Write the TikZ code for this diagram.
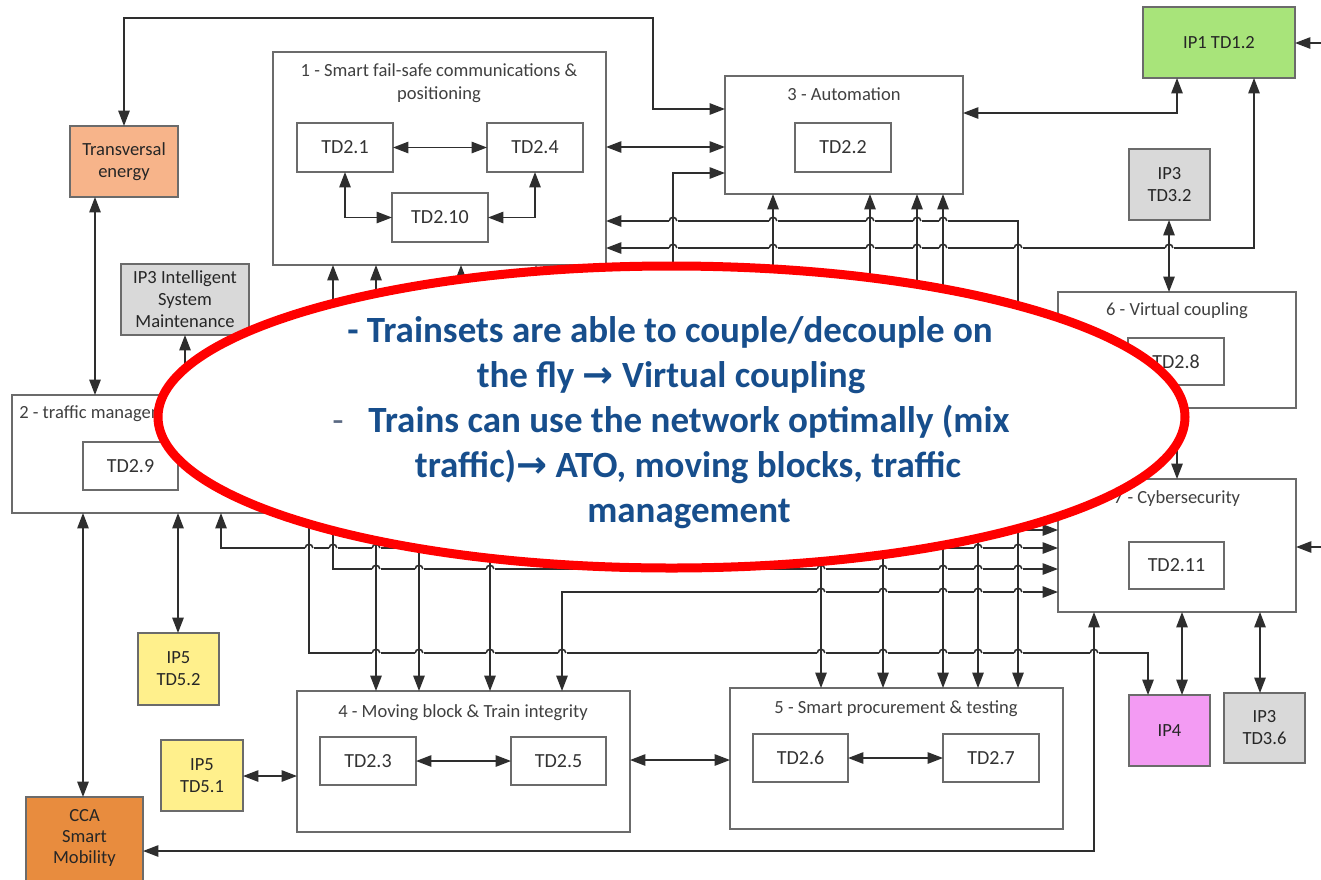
\documentclass[tikz,border=0pt]{standalone}
\usepackage{fontspec}
\setmainfont{Carlito}
\newfontfamily\arwfont{DejaVu Sans}
\usetikzlibrary{arrows.meta}
\definecolor{teC}{RGB}{247,180,138}
\definecolor{ipOne}{RGB}{168,228,122}
\definecolor{ipThree}{RGB}{217,217,217}
\definecolor{ipFive}{RGB}{255,240,140}
\definecolor{ipFour}{RGB}{243,155,243}
\definecolor{ccaC}{RGB}{232,140,62}
\definecolor{blueT}{RGB}{23,78,140}
\definecolor{dashC}{RGB}{90,105,130}
\tikzset{
 c/.style={line width=1.15pt, draw=black!82},
 bx/.style={draw=black!58, line width=1.1pt, fill=white, inner sep=0pt, outer sep=0pt, text=black!80, font=\fontsize{15pt}{18pt}\selectfont},
 cbx/.style={draw=black!58, line width=1.1pt, inner sep=0pt, outer sep=0pt, align=center, text=black!85, font=\fontsize{13.9pt}{16.5pt}\selectfont},
 ttl/.style={anchor=base, inner sep=0pt, text=black!75, font=\fontsize{13.9pt}{17pt}\selectfont},
 et/.style={anchor=base, inner sep=0pt, text=blueT, font=\fontsize{27.75pt}{33.75pt}\selectfont\bfseries},
 >={Triangle[length=11.5pt,width=8.5pt]},
}
% box from (x1,y1) to (x2,y2) in pixel coordinates
\newcommand\rect[6]{\node[#1, minimum width={(#4-#2)*0.75pt}, minimum height={(#5-#3)*0.75pt}] (#6) at ({(#2+#4)/2},{(#3+#5)/2})}
\newcommand\hop[2]{%
 \fill[white] ({#1-4.5},{#2-1.7}) rectangle ({#1+4.5},{#2+1.7});
 \draw[c] (#1,{#2-5}) -- (#1,{#2+5});
 \draw[c] ({#1-3.8},#2) arc[start angle=180,end angle=360,radius=3.8];}
\newcommand\arw{{\arwfont\bfseries →}}
\begin{document}
\begin{tikzpicture}[x=0.75pt,y=-0.75pt]
\useasboundingbox (0,0) rectangle (1321,879);
\clip (0,0) rectangle (1321,879);
\fill[white] (0,0) rectangle (1321,879);

% ---------- containers ----------
\rect{bx}{273}{52}{606}{265}{box1} {};
\node[ttl] (t1a) at (439,76) {1 - Smart fail-safe communications \&};
\node[ttl] (t1b) at (439,99) {positioning};
\rect{bx}{725}{76}{963}{194}{auto} {};
\node[ttl] (t3) at (844,100) {3 - Automation};
\rect{bx}{12}{395}{290}{513}{box2} {};
\node[ttl, anchor=base west] (t2) at (19,418) {2 - traffic management};
\rect{bx}{1058}{292}{1296}{408}{vc} {};
\node[ttl] (t6) at (1177,315) {6 - Virtual coupling};
\rect{bx}{1058}{479}{1296}{612}{cyber} {};
\node[ttl] (t7) at (1177,503) {7 - Cybersecurity};
\rect{bx}{297}{691}{630}{832}{box4} {};
\node[ttl] (t4) at (463,717) {4 - Moving block \& Train integrity};
\rect{bx}{730}{688}{1063}{829}{box5} {};
\node[ttl] (t5) at (896,713) {5 - Smart procurement \& testing};

% ---------- TD boxes ----------
\rect{bx}{297}{123}{393}{172}{td21} {TD2.1};
\rect{bx}{487}{123}{583}{172}{td24} {TD2.4};
\rect{bx}{392}{193}{488}{242}{td210} {TD2.10};
\rect{bx}{795}{123}{891}{172}{td22} {TD2.2};
\rect{bx}{83}{442}{178}{490}{td29} {TD2.9};
\rect{bx}{1128}{338}{1224}{385}{td28} {TD2.8};
\rect{bx}{1129}{542}{1224}{589}{td211} {TD2.11};
\rect{bx}{320}{737}{416}{785}{td23} {TD2.3};
\rect{bx}{511}{737}{606}{785}{td25} {TD2.5};
\rect{bx}{753}{734}{848}{782}{td26} {TD2.6};
\rect{bx}{943}{734}{1039}{782}{td27} {TD2.7};

% ---------- coloured boxes ----------
\rect{cbx, fill=teC}{70}{126}{178}{197}{te} {Transversal\\energy};
\rect{cbx, fill=ipOne}{1143}{7}{1295}{78}{ip1} {IP1 TD1.2};
\rect{cbx, fill=ipThree}{1129}{149}{1210}{220}{ip3a} {IP3\\TD3.2};
\rect{cbx, fill=ipThree}{121}{264}{249}{335}{ip3ism} {IP3 Intelligent\\System\\Maintenance};
\rect{cbx, fill=ipFive}{138}{633}{219}{705}{ip5b} {IP5\\TD5.2};
\rect{cbx, fill=ipFive}{161}{740}{243}{811}{ip5a} {IP5\\TD5.1};
\rect{cbx, fill=ccaC}{26}{797}{143}{886}{cca} {};
\node[align=center, inner sep=0pt, text=black!85, font=\fontsize{13.9pt}{16pt}\selectfont] (ccal) at (84.5,838) {CCA\\Smart\\Mobility};
\rect{cbx, fill=ipFour}{1129}{695}{1210}{766}{ip4} {IP4};
\rect{cbx, fill=ipThree}{1224}{693}{1305}{763}{ip3b} {IP3\\TD3.6};

\coordinate (e1) at (1321,43);
\coordinate (e2) at (1321,547);

% ---------- connectors ----------
\draw[c,<->] (td21.east) -- (td24.west);
\draw[c,<->] (td21.south) |- (td210.west);
\draw[c,<->] (td24.south) |- (td210.east);
\draw[c,<->] (box1.east |- 0,147) -- (auto.west |- 0,147);
\draw[c,<->] (te.north) -- (124,18) -- (653,18) -- (653,109) -- (auto.west |- 0,109);
\draw[c,<->] (te.south -| 95,0) -- (box2.north -| 95,0);
\draw[c,<->] (ip3ism.south -| 185,0) -- (box2.north -| 185,0);
\draw[c,<->] (box2.south -| 83,0) -- (cca.north -| 83,0);
\draw[c,<->] (box2.south -| 178,0) -- (ip5b.north -| 178,0);
\draw[c,<->] (box2.south -| 221,0) -- (221,548) -- (cyber.west |- 0,548);
\draw[c,<->] (ip5a.east |- 0,776) -- (box4.west |- 0,776);
\draw[c,<->] (td23.east) -- (td25.west);
\draw[c,<->] (box4.east |- 0,760) -- (box5.west |- 0,760);
\draw[c,<->] (td26.east) -- (td27.west);
\draw[c,<->] (cyber.south -| 1094,0) -- (1094,851) -- (cca.east |- 0,851);
\draw[c,<->] (cyber.south -| 1182,0) -- (ip4.north -| 1182,0);
\draw[c,<->] (cyber.south -| 1260,0) -- (ip3b.north -| 1260,0);
\draw[c,<->] (vc.south -| 1177,0) -- (cyber.north -| 1177,0);
\draw[c,<->] (ip3a.south -| 1169,0) -- (vc.north -| 1169,0);
\draw[c,<->] (auto.east |- 0,113) -- (1177,113) -- (ip1.south -| 1177,0);
\draw[c,->] (e1) -- (ip1.east |- e1);
\draw[c,->] (e2) -- (cyber.east |- e2);
\draw[c,<->] (box1.east |- 0,248) -- (1254,248) -- (ip1.south -| 1254,0);
\draw[c,<->] (box1.east |- 0,221) -- (1018,221) -- (box5.north -| 1018,0);
\draw[c,<->] (auto.west |- 0,173) -- (673,173) -- (673,420) -- (490,420) -- (box4.north -| 490,0);
\draw[c,<->] (auto.south -| 773,0) -- (773,400) -- (821,400) -- (box5.north -| 821,0);
\draw[c,<->] (auto.south -| 870,0) -- (870,410) -- (883,410) -- (box5.north -| 883,0);
\draw[c,<->] (auto.south -| 943,0) -- (box5.north -| 943,0);
\draw[c,<->] (auto.south -| 917,0) -- (917,350) -- (978,350) -- (box5.north -| 978,0);
\draw[c,<->] (box1.south -| 333,0) -- (333,569) -- (cyber.west |- 0,569);
\draw[c,<->] (box1.south -| 376,0) -- (box4.north -| 376,0);
\draw[c,<->] (box1.south -| 461,0) -- (461,530) -- (cyber.west |- 0,530);
\draw[c,<->] (box1.south -| 536,0) -- (536,500) -- (419,500) -- (box4.north -| 419,0);
\draw[c,<->] (box4.north -| 562,0) -- (562,592) -- (cyber.west |- 0,592);
\draw[c,->] (box2.east |- 0,480) -- (309,480) -- (309,653) -- (1148,653) -- (ip4.north -| 1148,0);

% ---------- line hops ----------
\foreach \x in {673,773,870,917,943} {\hop{\x}{221}}
\foreach \x in {673,773,870,917,943,1018,1169} {\hop{\x}{248}}
\foreach \x in {490,821,883,943,978,1018} {\hop{\x}{530}}
\foreach \x in {309,333,376,419,490,821,883,943,978,1018} {\hop{\x}{548}}
\foreach \x in {376,419,490,821,883,943,978,1018} {\hop{\x}{569}}
\foreach \x in {821,883,943,978,1018} {\hop{\x}{592}}
\foreach \x in {376,419,490,562,821,883,943,978,1018,1094} {\hop{\x}{653}}

% ---------- highlight ellipse ----------
\draw[red, line width=6.75pt, fill=white] (671.5,417) ellipse [x radius=513.5, y radius=151];
\node[et] (l1) at (670,342) {- Trainsets are able to couple/decouple on};
\node[et] (l2) at (671,387) {the fly \arw{} Virtual coupling};
\node[anchor=base, inner sep=0pt, text=dashC, font=\fontsize{27.75pt}{33.75pt}\selectfont] (l3d) at (338,432) {-};
\node[et] (l3) at (689,432) {Trains can use the network optimally (mix};
\node[et] (l4) at (688,477) {traffic)\arw{} ATO, moving blocks, traffic};
\node[et] (l5) at (689,522) {management};
\end{tikzpicture}
\end{document}
